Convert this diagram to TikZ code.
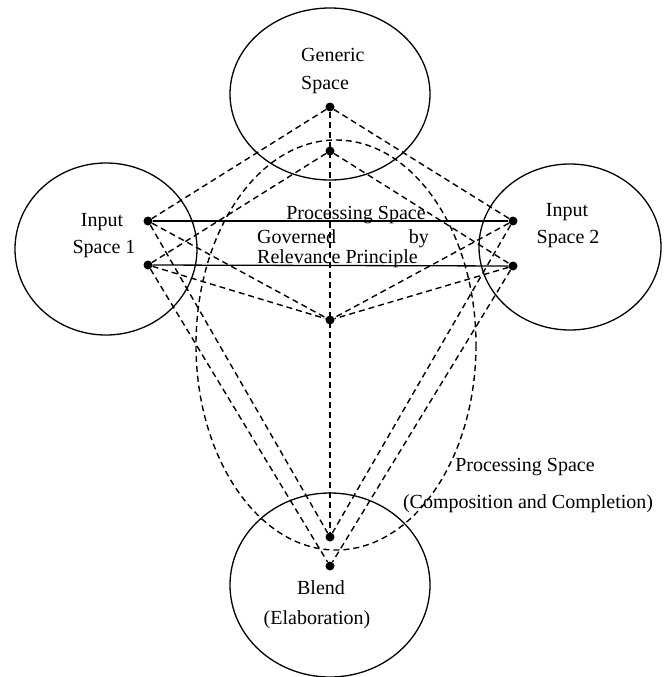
\documentclass[tikz,border=0pt]{standalone}
\usepackage{fontspec}
\setmainfont{Liberation Serif}
\usetikzlibrary{positioning}
\newcommand{\spacefont}{\fontsize{20}{24}\selectfont}
\tikzset{
  dot/.style={circle, fill=black, inner sep=0pt, minimum size=9pt},
  link/.style={dash pattern=on 6pt off 4pt, line width=1.4pt},
  bond/.style={line width=1.3pt},
  txt/.style={font=\spacefont, inner sep=0pt, text height=13pt, text depth=0pt}
}
\begin{document}
\begin{tikzpicture}[x=1pt,y=-1pt]
        \useasboundingbox (0,0) rectangle (668,677);
        % mental spaces
        \draw[bond] (330,94) ellipse (100 and 86);
        \draw[bond] (106,249) ellipse (91 and 86);
        \draw[bond] (570,247) ellipse (91 and 83);
        \draw[bond] (330,585) ellipse (100 and 92);
        % processing space (composition and completion)
        \draw[link] (336,345) ellipse (140 and 205);

        % elements
        \node[dot] (g1) at (330,107) {};
        \node[dot] (g2) at (330,151) {};
        \node[dot] (i1a) at (148,221) {};
        \node[dot] (i1b) at (148,265) {};
        \node[dot] (i2a) at (513,221) {};
        \node[dot] (i2b) at (513,266) {};
        \node[dot] (m) at (330,320) {};
        \node[dot] (b1) at (330,537) {};
        \node[dot] (b2) at (330,566) {};

        % mappings
        \draw[bond] (i1a) -- (i2a);
        \draw[bond] (i1b) -- (i2b);
        \draw[link] (g1) -- (i1a);
        \draw[link] (g1) -- (i2a);
        \draw[link] (g2) -- (i1b);
        \draw[link] (g2) -- (i2b);
        \draw[link] (g1) -- (b1);
        \draw[link] (i1a) -- (m);
        \draw[link] (i1b) -- (m);
        \draw[link] (i2a) -- (m);
        \draw[link] (i2b) -- (m);
        \draw[link] (i1a) -- (b1);
        \draw[link] (i1b) -- (b2);
        \draw[link] (i2a) -- (b1);
        \draw[link] (i2b) -- (b2);

        % labels
        \node[txt, anchor=west] (gen) at (301,55) {Generic};
        \node[txt, anchor=west] (gensp) at (301,83) {Space};
        \node[txt] (in1) at (102,220) {Input};
        \node[txt] (in1sp) at (104,247) {Space 1};
        \node[txt] (in2) at (567,210) {Input};
        \node[txt] (in2sp) at (568,237) {Space 2};
        \node[txt] (bl) at (321,588) {Blend};
        \node[txt] (blel) at (317,618) {(Elaboration)};
        \node[txt] (ps) at (356,213) {Processing Space};
        \node[txt, anchor=west] (gov) at (257,237) {Governed};
        \node[txt, anchor=east] (by) at (429,237) {by};
        \node[txt, anchor=west] (rel) at (257,257) {Relevance Principle};
        \node[txt] (ps2) at (525,465) {Processing Space};
        \node[txt] (cc) at (528,502) {(Composition and Completion)};
\end{tikzpicture}
\end{document}
